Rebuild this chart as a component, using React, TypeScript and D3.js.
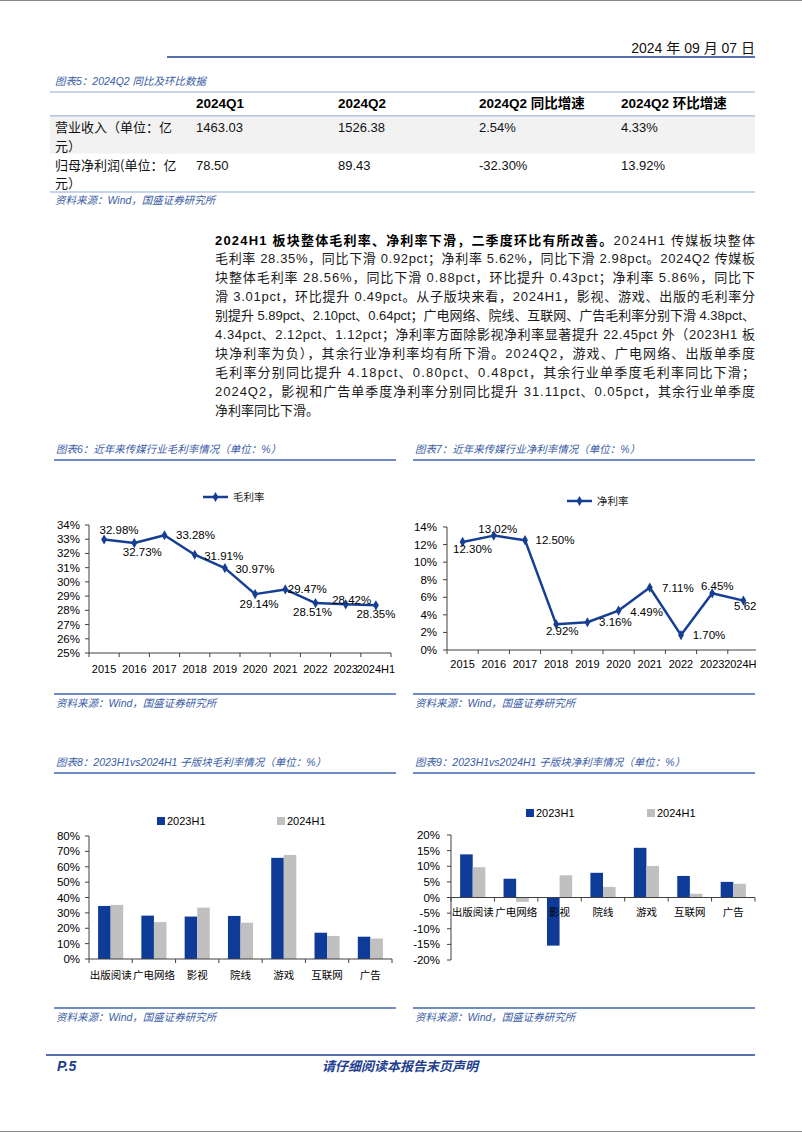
import React from 'react';
import * as d3 from 'd3';

// ---- data ----
const tableHeads = ['2024Q1', '2024Q2', '2024Q2 同比增速', '2024Q2 环比增速'];
const rowNames = [['营业收入（单位：亿', '元）'], ['归母净利润(单位：亿', '元）']];
const revenueRow = ['1463.03', '1526.38', '2.54%', '4.33%'];
const profitRow = ['78.50', '89.43', '-32.30%', '13.92%'];

const years = ['2015', '2016', '2017', '2018', '2019', '2020', '2021', '2022', '2023', '2024H1'];
const grossMargin = [32.98, 32.73, 33.28, 31.91, 30.97, 29.14, 29.47, 28.51, 28.42, 28.35];
const netMargin = [12.30, 13.02, 12.50, 2.92, 3.16, 4.49, 7.11, 1.70, 6.45, 5.62];

const segments = ['出版阅读', '广电网络', '影视', '院线', '游戏', '互联网', '广告'];
const gross2023H1 = [34.5, 28.2, 27.6, 28.0, 65.8, 17.1, 14.5];
const gross2024H1 = [35.2, 24.0, 33.4, 23.6, 67.7, 15.0, 13.3];
const net2023H1 = [13.8, 6.0, -15.4, 7.9, 15.9, 6.9, 5.0];
const net2024H1 = [9.7, -1.4, 7.1, 3.4, 10.1, 1.2, 4.4];

const paraLead = '2024H1 板块整体毛利率、净利率下滑，二季度环比有所改善。';
const paraLines = [
  '2024H1 传媒板块整体',
  '毛利率 28.35%，同比下滑 0.92pct；净利率 5.62%，同比下滑 2.98pct。2024Q2 传媒板',
  '块整体毛利率 28.56%，同比下滑 0.88pct，环比提升 0.43pct；净利率 5.86%，同比下',
  '滑 3.01pct，环比提升 0.49pct。从子版块来看，2024H1，影视、游戏、出版的毛利率分',
  '别提升 5.89pct、2.10pct、0.64pct；广电网络、院线、互联网、广告毛利率分别下滑 4.38pct、',
  '4.34pct、2.12pct、1.12pct；净利率方面除影视净利率显著提升 22.45pct 外（2023H1 板',
  '块净利率为负），其余行业净利率均有所下滑。2024Q2，游戏、广电网络、出版单季度',
  '毛利率分别同比提升 4.18pct、0.80pct、0.48pct，其余行业单季度毛利率同比下滑；',
  '2024Q2，影视和广告单季度净利率分别同比提升 31.11pct、0.05pct，其余行业单季度',
  '净利率同比下滑。',
];

// label nudges (px) relative to each point, as placed in the original
const grossLabelNudge = [[15, -10], [8, 9], [31, 0], [29, 1], [30, 1], [4, 10], [22, 0], [-3, 9], [6, -4], [0, 9]];
const netLabelNudge = [[10, 7], [4, -7], [30, 0], [6, 7], [28, 0], [28, 1], [28, 0], [28, 0], [5, -7], [7, 5]];

const NAVY = '#163f94';
const BAR_BLUE = '#0d3b97';
const BAR_GRAY = '#c0c0c0';
const RULE = '#3f66b0';
const CAPTION = '#3a5ca6';
const AXIS = '#404040';
const LATIN = '"Liberation Sans", Arial, sans-serif';
const CJK = '"Noto Sans CJK SC", "Liberation Sans", sans-serif';
const MIX = '"Liberation Sans", "Noto Sans CJK SC", sans-serif';

type Box = { l: number; r: number; t: number; b: number };

function LineChart(props: {
  cats: string[]; values: number[]; domain: [number, number]; nTicks: number;
  box: Box; nudge: number[][]; legendName: string; legendX: number; legendY: number;
  tickLabelX: number; catLabelY: number; clipId: string; clipX: number; clipR: number;
}) {
  const { cats, values, domain, nTicks, box, nudge } = props;
  const x = d3.scaleBand().domain(cats).range([box.l, box.r]);
  const y = d3.scaleLinear().domain(domain).range([box.b, box.t]);
  const cx = (i: number) => (x(cats[i]) as number) + x.bandwidth() / 2;
  const path = d3.line<number>().x((_, i) => cx(i)).y(v => y(v))(values) || '';
  const marker = d3.symbol(d3.symbolDiamond, 30)() || '';
  const bounds = cats.map(c => x(c) as number).concat([box.r]);

  return (
    <g>
      <clipPath id={props.clipId}>
        <rect x={props.clipX} y={box.t - 80} width={props.clipR - props.clipX} height={box.b - box.t + 120} />
      </clipPath>
      <g clipPath={`url(#${props.clipId})`}>
        {/* legend */}
        <line x1={props.legendX} x2={props.legendX + 25} y1={props.legendY} y2={props.legendY} stroke={NAVY} strokeWidth={2.5} />
        <path d={marker} transform={`translate(${props.legendX + 12.5},${props.legendY})`} fill={NAVY} />
        <text x={props.legendX + 30} y={props.legendY} dy="0.35em" fontFamily={CJK} fontSize={10.5} fill="#222">{props.legendName}</text>

        {/* y axis */}
        <line x1={box.l} x2={box.l} y1={box.t} y2={box.b} stroke={AXIS} />
        {y.ticks(nTicks).map(t => (
          <g key={t}>
            <line x1={box.l - 4} x2={box.l} y1={y(t)} y2={y(t)} stroke={AXIS} />
            <text x={props.tickLabelX} y={y(t)} dy="0.35em" textAnchor="end" fontFamily={LATIN} fontSize={11.5} fill="#000">{t + '%'}</text>
          </g>
        ))}
        {/* x axis */}
        <line x1={box.l} x2={box.r} y1={box.b} y2={box.b} stroke={AXIS} />
        {bounds.map((bx, i) => (
          <line key={i} x1={bx} x2={bx} y1={box.b} y2={box.b + 4} stroke={AXIS} />
        ))}
        {cats.map((c, i) => (
          <text key={c} x={cx(i)} y={props.catLabelY} dy="0.35em" textAnchor="middle" fontFamily={LATIN} fontSize={11} fill="#000">{c}</text>
        ))}

        <path d={path} fill="none" stroke={NAVY} strokeWidth={2.5} strokeLinejoin="round" />
        {values.map((v, i) => (
          <path key={i} d={marker} transform={`translate(${cx(i)},${y(v)})`} fill={NAVY} />
        ))}
        {values.map((v, i) => (
          <text key={'l' + i} x={cx(i) + nudge[i][0]} y={y(v) + nudge[i][1]} dy="0.35em" textAnchor="middle"
            fontFamily={LATIN} fontSize={11.5} fill="#000">{v.toFixed(2) + '%'}</text>
        ))}
      </g>
    </g>
  );
}

function BarChart(props: {
  cats: string[]; a: number[]; b: number[]; domain: [number, number]; nTicks: number;
  box: Box; tickLabelX: number; catLabelY: number; legendY: number; legendAX: number; legendBX: number;
}) {
  const { cats, a, b, domain, nTicks, box } = props;
  const x0 = d3.scaleBand().domain(cats).range([box.l, box.r]).paddingInner(0.42).paddingOuter(0.21);
  const x1 = d3.scaleBand().domain(['a', 'b']).range([0, x0.bandwidth()]);
  const y = d3.scaleLinear().domain(domain).range([box.b, box.t]);
  const zero = y(0);
  const bounds = d3.range(cats.length + 1).map(i => box.l + i * x0.step());
  const bar = (v: number, k: string, c: string, fill: string) => (
    <rect key={k + c} x={(x0(c) as number) + (x1(k) as number)} width={x1.bandwidth()}
      y={Math.min(y(v), zero)} height={Math.abs(y(v) - zero)} fill={fill} />
  );
  return (
    <g>
      <rect x={props.legendAX} y={props.legendY - 4} width={8} height={8} fill={BAR_BLUE} />
      <text x={props.legendAX + 10} y={props.legendY} dy="0.35em" fontFamily={LATIN} fontSize={11} fill="#000">2023H1</text>
      <rect x={props.legendBX} y={props.legendY - 4} width={8} height={8} fill={BAR_GRAY} />
      <text x={props.legendBX + 10} y={props.legendY} dy="0.35em" fontFamily={LATIN} fontSize={11} fill="#000">2024H1</text>

      {cats.map((c, i) => bar(a[i], 'a', c, BAR_BLUE))}
      {cats.map((c, i) => bar(b[i], 'b', c, BAR_GRAY))}

      <line x1={box.l} x2={box.l} y1={box.t} y2={box.b} stroke={AXIS} />
      {y.ticks(nTicks).map(t => (
        <g key={t}>
          <line x1={box.l - 4} x2={box.l} y1={y(t)} y2={y(t)} stroke={AXIS} />
          <text x={props.tickLabelX} y={y(t)} dy="0.35em" textAnchor="end" fontFamily={LATIN} fontSize={11.5} fill="#000">{t + '%'}</text>
        </g>
      ))}
      <line x1={box.l} x2={box.r} y1={zero} y2={zero} stroke={AXIS} />
      {bounds.map((bx, i) => (
        <line key={i} x1={bx} x2={bx} y1={zero} y2={zero + 4} stroke={AXIS} />
      ))}
      {cats.map(c => (
        <text key={c} x={(x0(c) as number) + x0.bandwidth() / 2} y={props.catLabelY} dy="0.35em" textAnchor="middle"
          fontFamily={CJK} fontSize={10.5} fill="#000">{c}</text>
      ))}
    </g>
  );
}

function Caption({ x, y, w, text }: { x: number; y: number; w: number; text: string }) {
  return (
    <g>
      <text x={x + 2} y={y} dy="0.35em" fontFamily={MIX} fontStyle="italic" fontSize={10.5} fill={CAPTION}>{text}</text>
      <line x1={x} x2={x + w} y1={y + 11} y2={y + 11} stroke={RULE} strokeWidth={1.3} />
    </g>
  );
}

function Source({ x, y, w }: { x: number; y: number; w: number }) {
  return (
    <g>
      <line x1={x} x2={x + w} y1={y} y2={y} stroke={RULE} strokeWidth={1.3} />
      <text x={x + 2} y={y + 9} dy="0.35em" fontFamily={MIX} fontStyle="italic" fontSize={10.5} fill={CAPTION}>资料来源：Wind，国盛证券研究所</text>
    </g>
  );
}

export default function App() {
  const colX = [196, 338, 479, 621];
  const lineTop = 240;
  const lineGap = 18.9;
  return (
    <div style={{ position: 'absolute', left: 0, top: 0 }}>
      <svg width={802} height={1133} style={{ display: 'block', background: '#fff' }}>
        <line x1={0} x2={802} y1={0.5} y2={0.5} stroke="#8a8a8a" />
        <line x1={0} x2={802} y1={1131.5} y2={1131.5} stroke="#8a8a8a" />

        {/* header */}
        <text x={755} y={48} dy="0.35em" textAnchor="end" fontFamily={MIX} fontSize={14} fill="#111">2024 年 09 月 07 日</text>
        <line x1={167} x2={755} y1={57} y2={57} stroke="#1f3f8f" strokeWidth={1.6} />

        {/* table */}
        <text x={55} y={81} dy="0.35em" fontFamily={MIX} fontStyle="italic" fontSize={10.5} fill={CAPTION}>图表5：2024Q2 同比及环比数据</text>
        <line x1={50} x2={755} y1={92} y2={92} stroke="#8faad8" strokeWidth={1.2} />
        {tableHeads.map((h, i) => (
          <text key={h} x={colX[i]} y={103} dy="0.35em" fontFamily={MIX} fontWeight="bold" fontSize={13.5} fill="#000">{h}</text>
        ))}
        <line x1={50} x2={755} y1={116} y2={116} stroke="#6f8fcc" strokeWidth={1.2} />
        <rect x={50} y={116.6} width={705} height={37} fill="#f2f2f2" />
        {[revenueRow, profitRow].map((row, r) => (
          <g key={r}>
            <text x={55} y={127.5 + r * 37.5} dy="0.35em" fontFamily={CJK} fontSize={13} fill="#111">{rowNames[r][0]}</text>
            <text x={55} y={146 + r * 37} dy="0.35em" fontFamily={CJK} fontSize={13} fill="#111">{rowNames[r][1]}</text>
            {row.map((v, i) => (
              <text key={i} x={colX[i]} y={127.5 + r * 37.5} dy="0.35em" fontFamily={LATIN} fontSize={13} fill="#111">{v}</text>
            ))}
          </g>
        ))}
        <line x1={50} x2={755} y1={192} y2={192} stroke="#8faad8" strokeWidth={1.2} />
        <text x={55} y={200} dy="0.35em" fontFamily={MIX} fontStyle="italic" fontSize={10.5} fill={CAPTION}>资料来源：Wind，国盛证券研究所</text>

        {/* paragraph */}
        {paraLines.map((ln, i) => {
          const last = i === paraLines.length - 1;
          return (
            <text key={i} x={215} y={lineTop + i * lineGap} dy="0.35em" fontFamily={MIX} fontSize={13} fill="#1a1a1a"
              textLength={last ? undefined : 540} lengthAdjust="spacing">
              {i === 0 ? <tspan fontWeight="bold" fill="#000">{paraLead}</tspan> : null}
              <tspan>{ln}</tspan>
            </text>
          );
        })}

        {/* chart 6 & 7 */}
        <Caption x={54} y={449} w={342} text="图表6：近年来传媒行业毛利率情况（单位：%）" />
        <Caption x={413} y={449} w={342} text="图表7：近年来传媒行业净利率情况（单位：%）" />
        <LineChart cats={years} values={grossMargin} domain={[25, 34]} nTicks={9}
          box={{ l: 89, r: 391, t: 525, b: 653 }} nudge={grossLabelNudge}
          legendName="毛利率" legendX={203} legendY={497} tickLabelX={80} catLabelY={669}
          clipId="c6" clipX={40} clipR={402} />
        <LineChart cats={years} values={netMargin} domain={[0, 14]} nTicks={7}
          box={{ l: 447, r: 759, t: 527, b: 650 }} nudge={netLabelNudge}
          legendName="净利率" legendX={567} legendY={501} tickLabelX={437} catLabelY={664}
          clipId="c7" clipX={405} clipR={756} />
        <Source x={54} y={694} w={342} />
        <Source x={413} y={694} w={342} />

        {/* chart 8 & 9 */}
        <Caption x={54} y={762} w={342} text="图表8：2023H1vs2024H1 子版块毛利率情况（单位：%）" />
        <Caption x={413} y={762} w={342} text="图表9：2023H1vs2024H1 子版块净利率情况（单位：%）" />
        <BarChart cats={segments} a={gross2023H1} b={gross2024H1} domain={[0, 80]} nTicks={8}
          box={{ l: 89, r: 392, t: 836, b: 959 }} tickLabelX={80} catLabelY={975}
          legendY={821} legendAX={157} legendBX={277} />
        <BarChart cats={segments} a={net2023H1} b={net2024H1} domain={[-20, 20]} nTicks={8}
          box={{ l: 451, r: 755, t: 835, b: 960 }} tickLabelX={440} catLabelY={912}
          legendY={813} legendAX={526} legendBX={647} />
        <Source x={54} y={1008} w={342} />
        <Source x={413} y={1008} w={342} />

        {/* footer */}
        <line x1={46} x2={755} y1={1055} y2={1055} stroke="#1f3f8f" strokeWidth={1.3} />
        <text x={57} y={1066} dy="0.35em" fontFamily={LATIN} fontStyle="italic" fontWeight="bold" fontSize={14} fill="#1f3f8f">P.5</text>
        <text x={400} y={1066} dy="0.35em" textAnchor="middle" fontFamily={CJK} fontStyle="italic" fontWeight="bold" fontSize={13} fill="#1f3f8f">请仔细阅读本报告末页声明</text>
      </svg>
    </div>
  );
}
